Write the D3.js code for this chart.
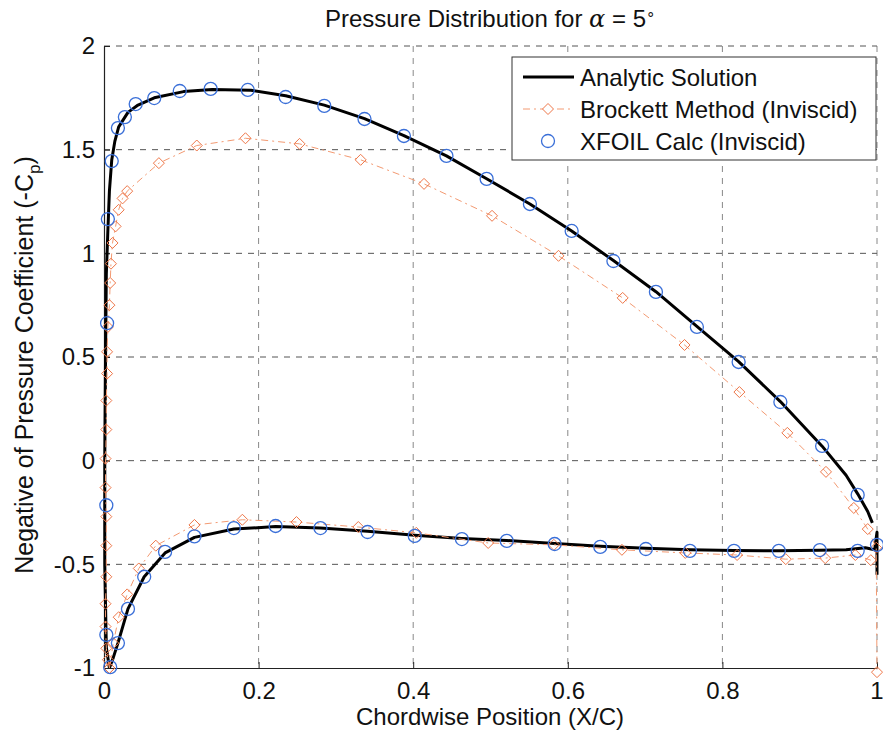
<!DOCTYPE html>
<html>
<head>
<meta charset="utf-8">
<script src="https://cdn.jsdelivr.net/npm/d3@7"></script>
<style>
  body { margin: 0; background: #fff; }
  svg { display: block; }
  text { font-family: "Liberation Sans", Arial, sans-serif; fill: #111; }
</style>
</head>
<body>
<svg id="chart" width="883" height="737"></svg>
<script>
// ---------- data ----------
const xTicks = [0, 0.2, 0.4, 0.6, 0.8, 1];
const xTickLabels = ["0", "0.2", "0.4", "0.6", "0.8", "1"];
const yTicks = [-1, -0.5, 0, 0.5, 1, 1.5, 2];
const yTickLabels = ["-1", "-0.5", "0", "0.5", "1", "1.5", "2"];

// Analytic solution (upper surface, from leading edge)
const analyticUpperX = [0.007, 0.003, 0.001, 0.001, 0.002, 0.003, 0.005, 0.007, 0.010, 0.014, 0.019, 0.031, 0.044, 0.065, 0.103, 0.14, 0.19, 0.235, 0.285, 0.337, 0.388, 0.443, 0.495, 0.551, 0.605, 0.659, 0.714, 0.767, 0.821, 0.875, 0.929, 0.96, 0.975, 0.988, 0.994];
const analyticUpperY = [-1.0, -0.9, -0.5, 0.0, 0.5, 0.9, 1.11, 1.3, 1.45, 1.54, 1.61, 1.68, 1.715, 1.75, 1.78, 1.79, 1.787, 1.76, 1.715, 1.65, 1.568, 1.47, 1.36, 1.238, 1.108, 0.965, 0.815, 0.648, 0.478, 0.285, 0.07, -0.07, -0.16, -0.245, -0.30];
// Analytic solution (lower surface, from leading edge)
const analyticLowerX = [0.007, 0.012, 0.018, 0.031, 0.052, 0.079, 0.117, 0.168, 0.222, 0.28, 0.341, 0.402, 0.463, 0.521, 0.583, 0.642, 0.701, 0.758, 0.815, 0.873, 0.926, 0.96, 0.985, 0.997, 1.0, 1.0];
const analyticLowerY = [-1.0, -0.95, -0.88, -0.715, -0.56, -0.445, -0.37, -0.33, -0.318, -0.325, -0.34, -0.36, -0.375, -0.385, -0.40, -0.413, -0.423, -0.43, -0.433, -0.435, -0.432, -0.43, -0.42, -0.43, -0.345, -0.55];

// Brockett method (inviscid)
const brockettUpperX = [0.007, 0.005, 0.003, 0.002, 0.002, 0.003, 0.003, 0.003, 0.002, 0.002, 0.003, 0.003, 0.004, 0.004, 0.005, 0.007, 0.008, 0.009, 0.011, 0.015, 0.019, 0.024, 0.030, 0.071, 0.120, 0.183, 0.253, 0.332, 0.414, 0.502, 0.588, 0.671, 0.751, 0.822, 0.884, 0.934, 0.970, 0.988, 0.999, 1.0];
const brockettUpperY = [-1.0, -0.96, -0.905, -0.80, -0.69, -0.56, -0.41, -0.27, -0.13, 0.01, 0.15, 0.29, 0.42, 0.525, 0.645, 0.75, 0.857, 0.95, 1.05, 1.13, 1.21, 1.265, 1.30, 1.435, 1.52, 1.555, 1.528, 1.451, 1.335, 1.181, 0.988, 0.785, 0.558, 0.331, 0.134, -0.054, -0.228, -0.33, -0.42, -1.02];
const brockettLowerX = [0.007, 0.012, 0.019, 0.030, 0.045, 0.067, 0.117, 0.179, 0.249, 0.329, 0.404, 0.497, 0.582, 0.670, 0.752, 0.819, 0.882, 0.933, 0.972, 0.992];
const brockettLowerY = [-1.0, -0.88, -0.755, -0.645, -0.52, -0.41, -0.31, -0.285, -0.296, -0.32, -0.348, -0.397, -0.406, -0.43, -0.445, -0.455, -0.475, -0.47, -0.455, -0.48];

// XFOIL calc (inviscid)
const xfoilUpperX = [0.003, 0.003, 0.004, 0.005, 0.010, 0.018, 0.027, 0.041, 0.065, 0.098, 0.138, 0.186, 0.235, 0.285, 0.337, 0.388, 0.443, 0.495, 0.551, 0.605, 0.659, 0.714, 0.767, 0.821, 0.875, 0.929, 0.975, 1.0];
const xfoilUpperY = [-0.84, -0.215, 0.663, 1.165, 1.445, 1.604, 1.657, 1.72, 1.749, 1.783, 1.793, 1.788, 1.754, 1.711, 1.648, 1.566, 1.47, 1.359, 1.238, 1.108, 0.963, 0.814, 0.645, 0.476, 0.283, 0.071, -0.165, -0.406];
const xfoilLowerX = [0.008, 0.018, 0.031, 0.052, 0.079, 0.117, 0.168, 0.222, 0.280, 0.341, 0.402, 0.463, 0.521, 0.583, 0.642, 0.701, 0.758, 0.815, 0.873, 0.926, 0.975];
const xfoilLowerY = [-0.996, -0.88, -0.715, -0.56, -0.44, -0.365, -0.325, -0.315, -0.325, -0.344, -0.363, -0.378, -0.387, -0.402, -0.416, -0.426, -0.435, -0.435, -0.435, -0.431, -0.435];

const legendLabels = ["Analytic Solution", "Brockett Method (Inviscid)", "XFOIL Calc (Inviscid)"];

// ---------- drawing ----------
(function draw() {
  const svg = d3.select("#chart");
  const pL = 104, pR = 877, pT = 46, pB = 668;
  const x = d3.scaleLinear().domain([0, 1]).range([pL, pR]);
  const y = d3.scaleLinear().domain([-1, 2]).range([pB, pT]);

  const zip = (xs, ys) => xs.map((v, i) => [v, ys[i]]);
  const line = d3.line().x(d => x(d[0])).y(d => y(d[1]));

  const BLUE = "#3a6fd8", ORANGE = "#ee7648", ORANGE_LINE = "#f39a72";

  // grid
  const grid = svg.append("g");
  grid.selectAll("line.v").data(xTicks.filter(d => d > 0)).join("line").attr("class", "v")
    .attr("x1", d => x(d)).attr("x2", d => x(d)).attr("y1", pT).attr("y2", pB)
    .attr("stroke", "#888").attr("stroke-width", 1).attr("stroke-dasharray", "6,6");
  grid.selectAll("line.h").data(yTicks.filter(d => d > -1)).join("line").attr("class", "h")
    .attr("x1", pL).attr("x2", pR).attr("y1", d => y(d)).attr("y2", d => y(d))
    .attr("stroke", "#555").attr("stroke-width", 1).attr("stroke-dasharray", "6,6");

  // axes
  const xAxis = d3.axisBottom(x).tickValues(xTicks).tickFormat((d, i) => xTickLabels[i])
    .tickSizeInner(-6).tickSizeOuter(0).tickPadding(14);
  const yAxis = d3.axisLeft(y).tickValues(yTicks).tickFormat((d, i) => yTickLabels[i])
    .tickSizeInner(-6).tickSizeOuter(0).tickPadding(9);
  const gx = svg.append("g").attr("transform", `translate(0,${pB})`).call(xAxis);
  const gy = svg.append("g").attr("transform", `translate(${pL},0)`).call(yAxis);
  [gx, gy].forEach(g => {
    g.select(".domain").attr("stroke", "#222").attr("stroke-width", 1.2);
    g.selectAll(".tick line").attr("stroke", "#222");
    g.selectAll(".tick text").attr("font-size", 24).attr("font-family", "Liberation Sans, Arial, sans-serif").attr("fill", "#111");
  });
  gx.selectAll(".tick text").filter(d => d === 1).attr("text-anchor", "end").attr("dx", 6);

  // Analytic
  [[analyticUpperX, analyticUpperY], [analyticLowerX, analyticLowerY]].forEach(([xs, ys]) => {
    svg.append("path").datum(zip(xs, ys)).attr("d", line)
      .attr("fill", "none").attr("stroke", "#000").attr("stroke-width", 3).attr("stroke-linejoin", "round");
  });

  // Brockett
  const diamond = s => `M0,${-s}L${s},0L0,${s}L${-s},0Z`;
  [[brockettUpperX, brockettUpperY], [brockettLowerX, brockettLowerY]].forEach(([xs, ys]) => {
    const pts = zip(xs, ys);
    svg.append("path").datum(pts).attr("d", line)
      .attr("fill", "none").attr("stroke", ORANGE_LINE).attr("stroke-width", 1)
      .attr("stroke-dasharray", "7,4,2,4");
    svg.append("g").selectAll("path").data(pts).join("path")
      .attr("transform", d => `translate(${x(d[0])},${y(d[1])})`)
      .attr("d", diamond(5.5)).attr("fill", "none").attr("stroke", ORANGE).attr("stroke-width", 1);
  });

  // XFOIL
  [[xfoilUpperX, xfoilUpperY], [xfoilLowerX, xfoilLowerY]].forEach(([xs, ys]) => {
    svg.append("g").selectAll("circle").data(zip(xs, ys)).join("circle")
      .attr("cx", d => x(d[0])).attr("cy", d => y(d[1])).attr("r", 6.5)
      .attr("fill", "none").attr("stroke", BLUE).attr("stroke-width", 1.3);
  });

  // Title
  const title = svg.append("text").attr("x", 490).attr("y", 27).attr("text-anchor", "middle").attr("font-size", 24);
  title.append("tspan").text("Pressure Distribution for ");
  title.append("tspan").attr("font-family", "DejaVu Serif, serif").attr("font-style", "italic").text("α");
  title.append("tspan").text(" = 5");
  title.append("tspan").attr("font-size", 15).attr("dy", -8).text("∘");

  // Axis labels
  svg.append("text").attr("x", 490).attr("y", 725).attr("text-anchor", "middle").attr("font-size", 24)
    .text("Chordwise Position (X/C)");
  const yl = svg.append("text").attr("transform", "translate(33,365) rotate(-90)")
    .attr("text-anchor", "middle").attr("font-size", 25);
  yl.append("tspan").text("Negative of Pressure Coefficient (-C");
  yl.append("tspan").attr("font-size", 17).attr("dy", 7).text("p");
  yl.append("tspan").attr("dy", -7).text(")");

  // Legend
  const lg = svg.append("g");
  lg.append("rect").attr("x", 512).attr("y", 57).attr("width", 364).attr("height", 103)
    .attr("fill", "#fff").attr("stroke", "#333").attr("stroke-width", 1);
  const rowsY = [77, 109, 141];
  lg.append("line").attr("x1", 523).attr("x2", 574).attr("y1", rowsY[0]).attr("y2", rowsY[0])
    .attr("stroke", "#000").attr("stroke-width", 3);
  lg.append("line").attr("x1", 523).attr("x2", 574).attr("y1", rowsY[1]).attr("y2", rowsY[1])
    .attr("stroke", ORANGE_LINE).attr("stroke-width", 1).attr("stroke-dasharray", "7,4,2,4");
  lg.append("path").attr("transform", `translate(548,${rowsY[1]})`).attr("d", diamond(5.5))
    .attr("fill", "#fff").attr("stroke", ORANGE).attr("stroke-width", 1);
  lg.append("circle").attr("cx", 548).attr("cy", rowsY[2]).attr("r", 6.5)
    .attr("fill", "none").attr("stroke", BLUE).attr("stroke-width", 1.3);
  lg.selectAll("text").data(legendLabels).join("text")
    .attr("x", 580).attr("y", (d, i) => rowsY[i] + 9).attr("font-size", 24).text(d => d);
})();
</script>
</body>
</html>
